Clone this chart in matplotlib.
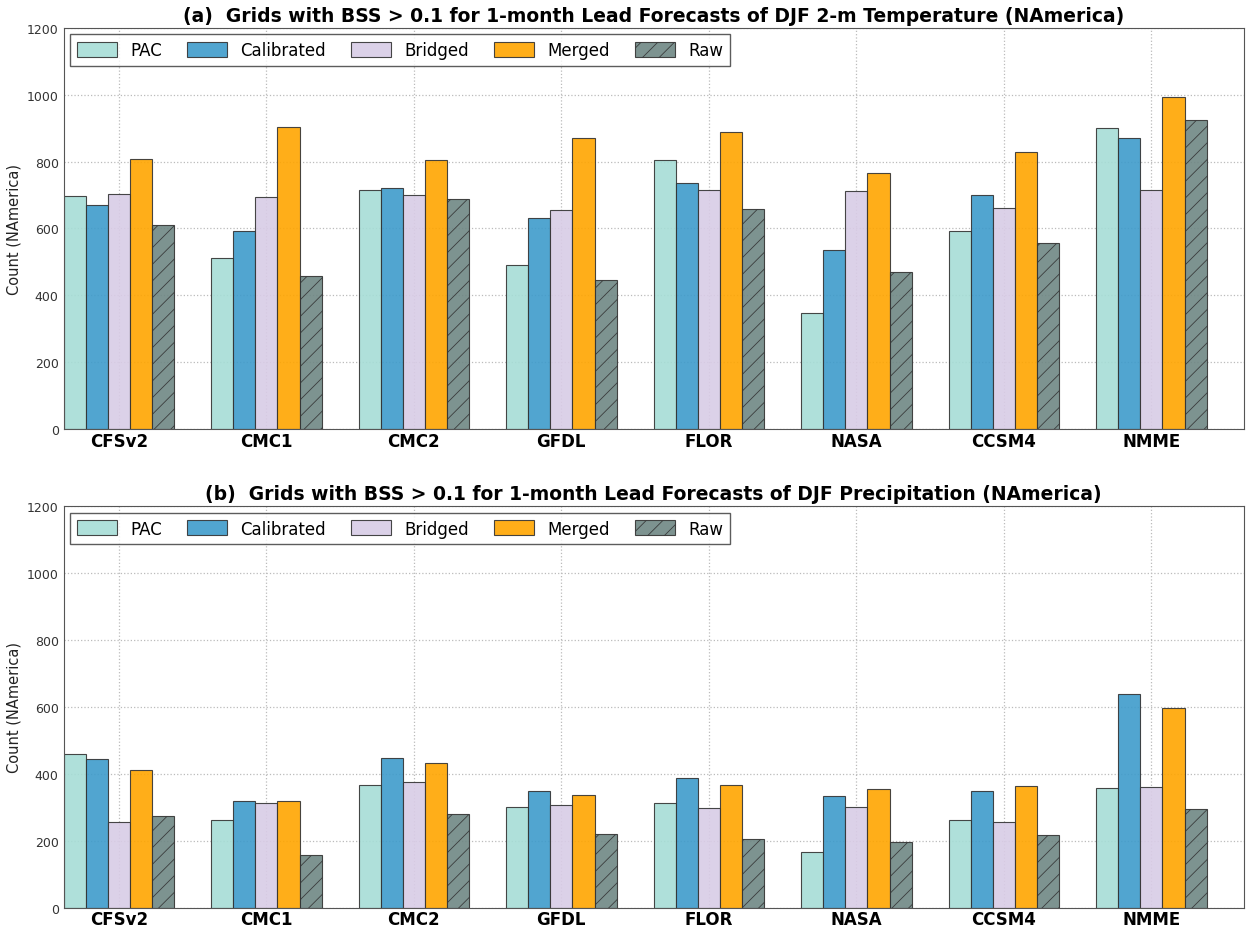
"""Grids with BSS > 0.1 bar charts for NAmerica (DJF T2m and precipitation)."""

import numpy as np
import matplotlib
matplotlib.use("Agg")
import matplotlib.pyplot as plt

# ==========================================
# DATA
# ==========================================
models = ["CFSv2", "CMC1", "CMC2", "GFDL", "FLOR", "NASA", "CCSM4", "NMME"]
methods = ["PAC", "Calibrated", "Bridged", "Merged", "Raw"]

# (a) DJF 2-m temperature
t2m_pac = [696, 513, 714, 491, 805, 348, 592, 899]
t2m_calibrated = [670, 592, 720, 631, 736, 537, 701, 869]
t2m_bridged = [703, 694, 699, 655, 716, 712, 661, 716]
t2m_merged = [807, 903, 804, 869, 889, 765, 829, 994]
t2m_raw = [611, 459, 687, 447, 659, 471, 556, 925]

# (b) DJF precipitation
prec_pac = [458, 261, 367, 300, 312, 167, 263, 358]
prec_calibrated = [444, 318, 446, 348, 386, 334, 350, 640]
prec_bridged = [255, 314, 375, 307, 298, 302, 255, 360]
prec_merged = [410, 318, 432, 338, 365, 354, 364, 598]
prec_raw = [274, 157, 280, 219, 205, 196, 217, 296]

colors = ["#a6ddd6", "#3e9bcb", "#d8cce6", "#ffa500", "#6f8784"]
hatches = ["", "", "", "", "//"]

titles = [
    "(a)  Grids with BSS > 0.1 for 1-month Lead Forecasts of DJF 2-m Temperature (NAmerica)",
    "(b)  Grids with BSS > 0.1 for 1-month Lead Forecasts of DJF Precipitation (NAmerica)",
]


def draw_panel(ax, series, title):
    ind = np.arange(len(models))
    width = 0.15
    for k, (vals, name) in enumerate(zip(series, methods)):
        ax.bar(
            ind + k * width,
            vals,
            width,
            align="edge",
            color=colors[k],
            edgecolor="#333333",
            linewidth=0.8,
            alpha=0.9,
            hatch=hatches[k],
            label=name,
        )
    ax.set_xlim(0, len(models))
    ax.set_ylim(0, 1200)
    ax.set_yticks(np.arange(0, 1201, 200))
    ax.set_xticks(ind + 2.5 * width)
    ax.set_xticklabels(models, fontsize=12, fontweight="bold")
    ax.tick_params(axis="y", labelsize=9, length=0, labelcolor="#333333")
    ax.tick_params(axis="x", length=0, pad=2)
    ax.set_axisbelow(True)
    ax.grid(True, linestyle=":", color="#bbbbbb", linewidth=0.9)
    ax.set_ylabel("Count (NAmerica)", fontsize=10.5, color="#222222")
    ax.set_title(title, fontsize=13.5, fontweight="bold", pad=5)
    for s in ax.spines.values():
        s.set_color("#555555")
    leg = ax.legend(
        loc="upper left",
        ncol=5,
        fontsize=12,
        frameon=True,
        fancybox=False,
        borderaxespad=0.4,
        handlelength=2.4,
        handleheight=1.0,
        columnspacing=1.5,
    )
    leg.get_frame().set_edgecolor("#333333")
    leg.get_frame().set_linewidth(1.0)


plt.rcParams["hatch.color"] = "#333333"
plt.rcParams["hatch.linewidth"] = 0.6

fig = plt.figure(figsize=(12.46, 9.29), dpi=100)
ax1 = fig.add_axes([0.051, 0.537, 0.947, 0.432])
ax2 = fig.add_axes([0.051, 0.022, 0.947, 0.432])

draw_panel(ax1, [t2m_pac, t2m_calibrated, t2m_bridged, t2m_merged, t2m_raw], titles[0])
draw_panel(ax2, [prec_pac, prec_calibrated, prec_bridged, prec_merged, prec_raw], titles[1])

fig.savefig("out.png", dpi=100)
